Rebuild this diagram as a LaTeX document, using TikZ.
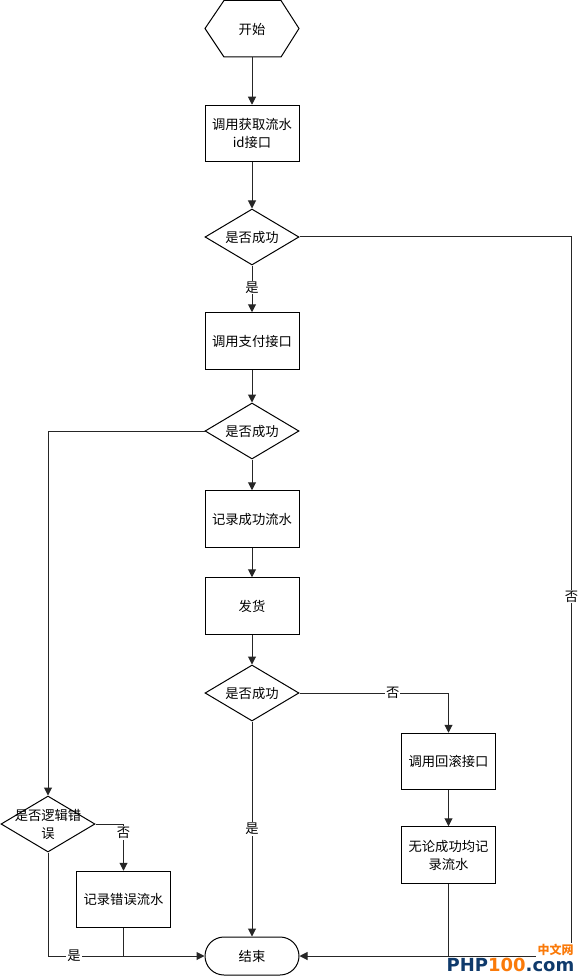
\documentclass[tikz,border=0pt]{standalone}
\usepackage{fontspec}
\setmainfont{Noto Sans CJK SC}
\newfontfamily\logofont{DejaVu Sans}
\usetikzlibrary{shapes.geometric,shapes.misc,arrows.meta}
\definecolor{logoblue}{HTML}{0F3A6B}
\definecolor{logoorange}{HTML}{FA7A0A}
\tikzset{
  every node/.style={font=\fontsize{13.3}{18}\selectfont},
  boxnode/.style={draw=black,line width=1pt,fill=white,minimum width=94pt,minimum height=56.5pt,inner sep=0pt,align=center,text width=88pt},
  decision/.style={diamond,draw=black,line width=1pt,fill=white,minimum width=94pt,minimum height=56pt,inner sep=0pt,aspect=1.68},
  dtext/.style={align=center,inner sep=0pt},
  terminal/.style={rounded rectangle,draw=black,line width=1pt,fill=white,minimum width=94pt,minimum height=38pt,inner sep=0pt},
  flow/.style={draw=black!85,line width=1pt,-{Triangle[length=8pt,width=8pt]}},
  plain/.style={draw=black!85,line width=1pt},
  lbl/.style={fill=white,inner sep=1pt},
}
\begin{document}
\begin{tikzpicture}[x=1pt,y=-1pt]
\useasboundingbox (0,0) rectangle (579,976);
% start hexagon
\node[inner sep=0pt,minimum width=94pt,minimum height=57pt] (start) at (252,28.5) {};
\draw[line width=1pt,draw=black] (205,28.5) -- (224,0.5) -- (281,0.5) -- (299,28.5) -- (281,57) -- (224,57) -- cycle;
\node (starttext) at (252,29) {开始};
\node[boxnode] (getid) at (252,133.5) {调用获取流水\\id接口};
\node[decision] (d1) at (252,237) {};
\node[dtext] (d1t) at (252,237) {是否成功};
\node[boxnode] (pay) at (252,341) {调用支付接口};
\node[decision] (d2) at (252,431) {};
\node[dtext] (d2t) at (252,431) {是否成功};
\node[boxnode] (okrec) at (252,519) {记录成功流水};
\node[boxnode] (ship) at (252,606) {发货};
\node[decision] (d3) at (252,693) {};
\node[dtext] (d3t) at (252,693) {是否成功};
\node[boxnode] (rollback) at (448.5,761.5) {调用回滚接口};
\node[boxnode] (anyrec) at (448.5,855) {无论成功均记\\录流水};
\node[decision] (d4) at (48,824) {};
\node[dtext] (d4t) at (48,824) {是否逻辑错\\误};
\node[boxnode] (errrec) at (123.5,899.5) {记录错误流水};
\node[terminal] (end) at (252,956) {结束};
% connector corners
\coordinate (c1a) at (571.5,237);
\coordinate (c1b) at (571.5,956);
\coordinate (c2) at (48,431);
\coordinate (c4) at (48,956);
\coordinate (j1) at (123.5,956);
\coordinate (j2) at (448.5,956);
% connectors
\draw[flow] (start.south) -- (getid.north);
\draw[flow] (getid.south) -- (d1.north);
\draw[flow] (d1.south) -- node[lbl,pos=.47] (l1) {是} (pay.north);
\draw[flow] (pay.south) -- (d2.north);
\draw[flow] (d2.south) -- (okrec.north);
\draw[flow] (okrec.south) -- (ship.north);
\draw[flow] (ship.south) -- (d3.north);
\draw[flow] (d3.south) -- node[lbl,pos=.5] (l2) {是} (end.north);
\draw[flow] (d3.east) -| node[lbl,pos=.313] (l3) {否} (rollback.north);
\draw[flow] (rollback.south) -- (anyrec.north);
\draw[plain] (anyrec.south) -- (j2);
\draw[flow] (d1.east) -- (c1a) -- node[lbl,pos=.5] (l4) {否} (c1b) -- (end.east);
\draw[flow] (d2.west) -- (c2) -- (d4.north);
\draw[flow] (d4.east) -| node[lbl,pos=.595] (l5) {否} (errrec.north);
\draw[flow] (d4.south) -- (c4) -- node[lbl,pos=.166] (l6) {是} (end.west);
\draw[plain] (errrec.south) -- (j1);
% watermark
\node[inner sep=0pt,fill=white,font=\fontsize{12}{12}\selectfont\bfseries,text=logoorange,minimum width=39pt,minimum height=14pt] (wm1) at (555.5,950) {中文网};
\node[inner sep=0pt,anchor=base east,font=\logofont\fontsize{18}{18}\selectfont\bfseries] (wm2) at (574.5,971) {\textcolor{logoblue}{PHP}\textcolor{logoorange}{100}\textcolor{logoblue}{.com}};
\end{tikzpicture}
\end{document}
